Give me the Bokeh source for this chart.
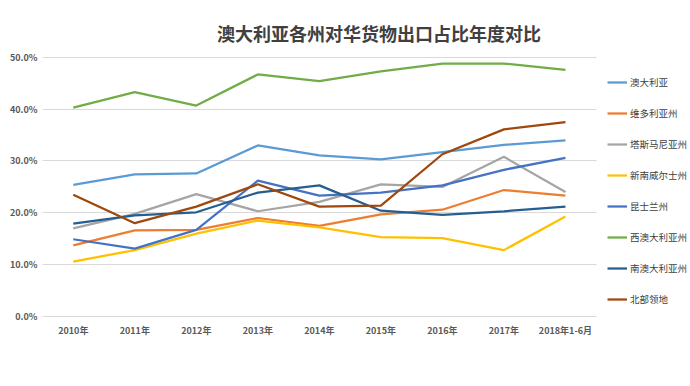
from bokeh.plotting import figure
from bokeh.models import Range1d, NumeralTickFormatter, FixedTicker, Legend, LegendItem, Label
from bokeh.embed import file_html
from bokeh.resources import INLINE

years = ["2010年", "2011年", "2012年", "2013年", "2014年", "2015年", "2016年", "2017年", "2018年1-6月"]
series_names = ["澳大利亚", "维多利亚州", "塔斯马尼亚州", "新南威尔士州", "昆士兰州", "西澳大利亚州", "南澳大利亚州", "北部领地"]
aus = [25.4, 27.4, 27.6, 33.0, 31.1, 30.3, 31.7, 33.1, 34.0]
vic = [13.7, 16.6, 16.7, 19.0, 17.5, 19.7, 20.6, 24.4, 23.3]
tas = [17.0, 19.8, 23.6, 20.3, 22.1, 25.5, 25.0, 30.8, 24.0]
nsw = [10.6, 12.8, 16.0, 18.5, 17.2, 15.3, 15.1, 12.8, 19.3]
qld = [14.9, 13.1, 16.7, 26.2, 23.3, 23.9, 25.3, 28.3, 30.6]
wa = [40.3, 43.3, 40.7, 46.7, 45.4, 47.3, 48.8, 48.8, 47.6]
sa = [17.9, 19.5, 20.1, 23.9, 25.3, 20.4, 19.6, 20.3, 21.2]
nt = [23.5, 18.0, 21.2, 25.5, 21.2, 21.4, 31.3, 36.1, 37.5]
colors = ["#5B9BD5", "#ED7D31", "#A5A5A5", "#FFC000", "#4472C4", "#70AD47", "#255E91", "#9E480E"]
all_series = [aus, vic, tas, nsw, qld, wa, sa, nt]
y_ticks = [0, 0.1, 0.2, 0.3, 0.4, 0.5]

FONT = "Noto Sans CJK SC"
xs = list(range(len(years)))

p = figure(width=688, height=370, x_range=Range1d(-0.5, 10.0), y_range=Range1d(-0.002, 0.5788),
           output_backend="svg", toolbar_location=None,
           min_border_left=42, min_border_right=0, min_border_top=16, min_border_bottom=53)
p.outline_line_color = None
p.background_fill_color = "white"
p.border_fill_color = "white"

items = []
for name, vals, c in zip(series_names, all_series, colors):
    r = p.line(xs, [v / 100 for v in vals], line_color=c, line_width=2.25)
    items.append(LegendItem(label=name, renderers=[r]))

p.xaxis.ticker = FixedTicker(ticks=xs)
p.xaxis.major_label_overrides = {i: y for i, y in zip(xs, years)}
p.yaxis.ticker = FixedTicker(ticks=y_ticks)
p.yaxis.formatter = NumeralTickFormatter(format="0.0%")
for ax in (p.xaxis, p.yaxis):
    ax.axis_line_color = None
    ax.major_tick_line_color = None
    ax.minor_tick_line_color = None
    ax.major_tick_out = 0
    ax.major_label_text_font = FONT
    ax.major_label_text_font_style = "bold"
    ax.major_label_text_font_size = "9px"
    ax.major_label_text_color = "#595959"
p.yaxis.major_label_standoff = 5
p.xaxis.major_label_standoff = 6
p.xgrid.grid_line_color = None
p.ygrid.grid_line_color = "#D9D9D9"
p.ygrid.grid_line_width = 1
p.ygrid.cross_bounds = (-0.5, len(years) - 0.5)

legend = Legend(items=items, location=(565, 8), orientation="vertical",
                glyph_width=20, glyph_height=20, label_height=20, spacing=11,
                padding=0, margin=0, label_standoff=3,
                label_text_font=FONT, label_text_font_size="9.5px", label_text_color="#404040",
                border_line_color=None, background_fill_alpha=0)
p.add_layout(legend)

title = Label(x=4.97, y=0.546, text="澳大利亚各州对华货物出口占比年度对比",
              text_align="center", text_baseline="middle", text_font=FONT,
              text_font_style="bold", text_font_size="18px", text_color="#404040")
p.add_layout(title)

open("out.html", "w").write(file_html(p, INLINE))
